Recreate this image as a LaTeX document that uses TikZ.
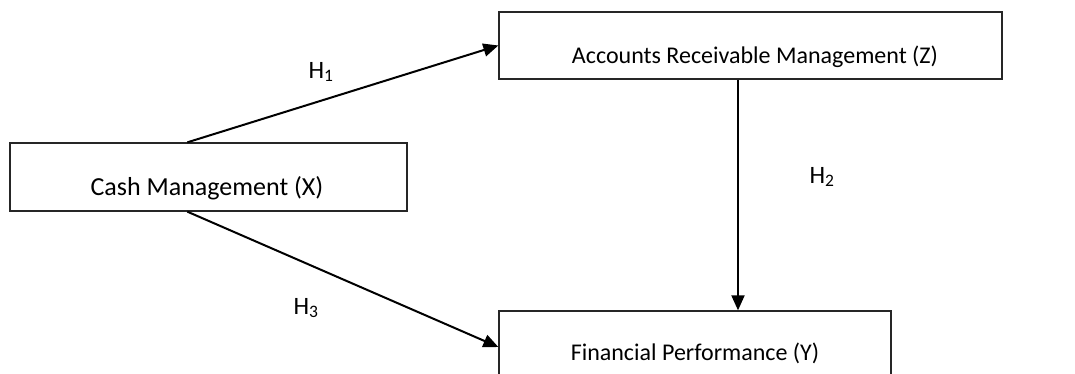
\documentclass[tikz,border=0pt]{standalone}
\usepackage{fontspec}
\setmainfont{Carlito}
\usetikzlibrary{arrows.meta,calc}
\begin{document}
\begin{tikzpicture}[x=1pt,y=-1pt,
  box/.style={draw=black!85,line width=1.3pt,rectangle,inner sep=0pt,fill=white},
  lbl/.style={inner sep=0pt,font=\fontsize{24}{28}\selectfont,text=black},
  hlbl/.style={inner sep=0pt,font=\fontsize{25}{28}\selectfont,text=black},
  arr/.style={line width=2pt,-{Triangle[length=15pt,width=13pt]}}]
\useasboundingbox (0,0) rectangle (1075,374);
\clip (0,0) rectangle (1075,374);
\node[box,minimum width=397pt,minimum height=68pt] (X) at (208.5,177) {};
\node[box,minimum width=503pt,minimum height=67pt] (Z) at (750.5,45.5) {};
\node[box,minimum width=392pt,minimum height=72pt] (Y) at (695,347) {};
\node[lbl,font=\fontsize{26}{30}\selectfont] (tx) at (207,188) {Cash Management (X)};
\node[lbl] (tz) at (755,57) {Accounts Receivable Management (Z)};
\node[lbl] (ty) at (695,353) {Financial Performance (Y)};
\coordinate (x1) at ($(X.north west)+(178,0)$);
\coordinate (x3) at ($(X.south west)+(178,0)$);
\coordinate (z2) at ($(Z.south)+(-12.5,0)$);
\coordinate (y2) at ($(Y.north)+(43,0)$);
\draw[arr] (x1) -- (Z.west);
\draw[arr] (x3) -- (Y.west);
\draw[arr] (z2) -- (y2);
\node[hlbl] (h1) at (321,72) {H\textsubscript{1}};
\node[hlbl] (h2) at (822,177) {H\textsubscript{2}};
\node[hlbl] (h3) at (306,308) {H\textsubscript{3}};
\end{tikzpicture}
\end{document}
